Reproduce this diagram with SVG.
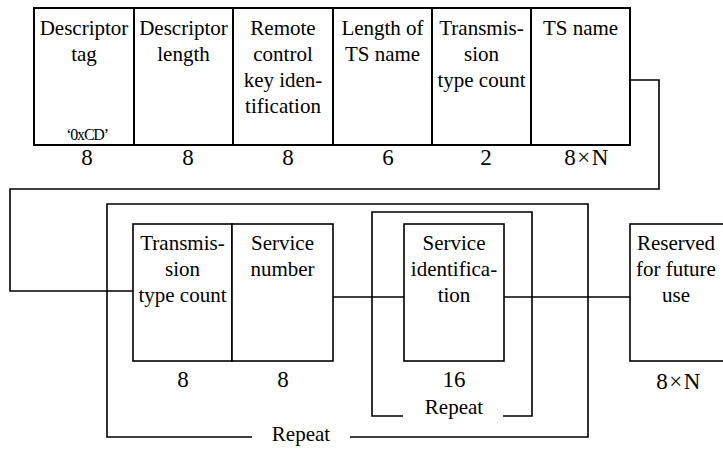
<svg xmlns="http://www.w3.org/2000/svg" width="723" height="449" viewBox="0 0 723 449">
<style>
text{fill:#000;text-anchor:middle;font-family:"Liberation Serif","DejaVu Serif",serif}
.t{font-size:21px}
.n{font-size:23px}
.nx{font-size:23px;letter-spacing:1.5px}
.s{font-size:16px;letter-spacing:-1.2px}
.bx{fill:#fff;stroke:#000;stroke-width:2}
.bx2{fill:#fff;stroke:#000;stroke-width:1.6}
.ln{fill:none;stroke:#000;stroke-width:1.6}
</style>
<rect width="723" height="449" fill="#fff"/>
<g id="connectors">
<polyline class="ln" points="630,80 659,80 659,189 10,189 10,291 133,291"/>
<line class="ln" x1="333" y1="297" x2="404" y2="297"/>
<line class="ln" x1="504" y1="297" x2="630" y2="297"/>
</g>
<g id="repeat-outer">
<polyline class="ln" points="252,437 107,437 107,204 588,204 588,437 350,437"/>
<text class="t" x="301" y="441">Repeat</text>
</g>
<g id="repeat-inner">
<polyline class="ln" points="403,416 372,416 372,212 532,212 532,416 503,416"/>
<text class="t" x="454" y="414">Repeat</text>
</g>
<g id="descriptor-tag">
<rect class="bx" x="34" y="8" width="100" height="137"/>
<text class="t" x="84" y="35">Descriptor</text>
<text class="t" x="84" y="61">tag</text>
<text class="s" x="87" y="140">‘0xCD’</text>
<text class="n" x="87" y="165">8</text>
</g>
<g id="descriptor-length">
<rect class="bx" x="134" y="8" width="99" height="137"/>
<text class="t" x="183.5" y="35">Descriptor</text>
<text class="t" x="183.5" y="61">length</text>
<text class="n" x="188" y="165">8</text>
</g>
<g id="remote-control">
<rect class="bx" x="233" y="8" width="100" height="137"/>
<text class="t" x="283" y="35">Remote</text>
<text class="t" x="283" y="61">control</text>
<text class="t" x="283" y="87">key iden-</text>
<text class="t" x="283" y="113">tification</text>
<text class="n" x="288" y="165">8</text>
</g>
<g id="length-ts-name">
<rect class="bx" x="333" y="8" width="99" height="137"/>
<text class="t" x="382.5" y="35">Length of</text>
<text class="t" x="382.5" y="61">TS name</text>
<text class="n" x="388" y="165">6</text>
</g>
<g id="transmission-type-count-1">
<rect class="bx" x="432" y="8" width="99" height="137"/>
<text class="t" x="481.5" y="35">Transmis-</text>
<text class="t" x="481.5" y="61">sion</text>
<text class="t" x="481.5" y="87">type count</text>
<text class="n" x="486" y="165">2</text>
</g>
<g id="ts-name">
<rect class="bx" x="531" y="8" width="99" height="137"/>
<text class="t" x="580.5" y="35">TS name</text>
<text class="nx" x="587" y="165">8×N</text>
</g>
<g id="transmission-type-count-2">
<rect class="bx2" x="133" y="224" width="99" height="137"/>
<text class="t" x="182.5" y="250">Transmis-</text>
<text class="t" x="182.5" y="276">sion</text>
<text class="t" x="182.5" y="302">type count</text>
<text class="n" x="183" y="387">8</text>
</g>
<g id="service-number">
<rect class="bx2" x="232" y="224" width="101" height="137"/>
<text class="t" x="282.5" y="250">Service</text>
<text class="t" x="282.5" y="276">number</text>
<text class="n" x="283" y="387">8</text>
</g>
<g id="service-identification">
<rect class="bx2" x="404" y="224" width="100" height="137"/>
<text class="t" x="454" y="250">Service</text>
<text class="t" x="454" y="276">identifica-</text>
<text class="t" x="454" y="302">tion</text>
<text class="n" x="454" y="387">16</text>
</g>
<g id="reserved">
<rect class="bx2" x="630" y="224" width="96" height="137"/>
<text class="t" x="676" y="250">Reserved</text>
<text class="t" x="676" y="276">for future</text>
<text class="t" x="676" y="302">use</text>
<text class="nx" x="679" y="389">8×N</text>
</g>
</svg>
